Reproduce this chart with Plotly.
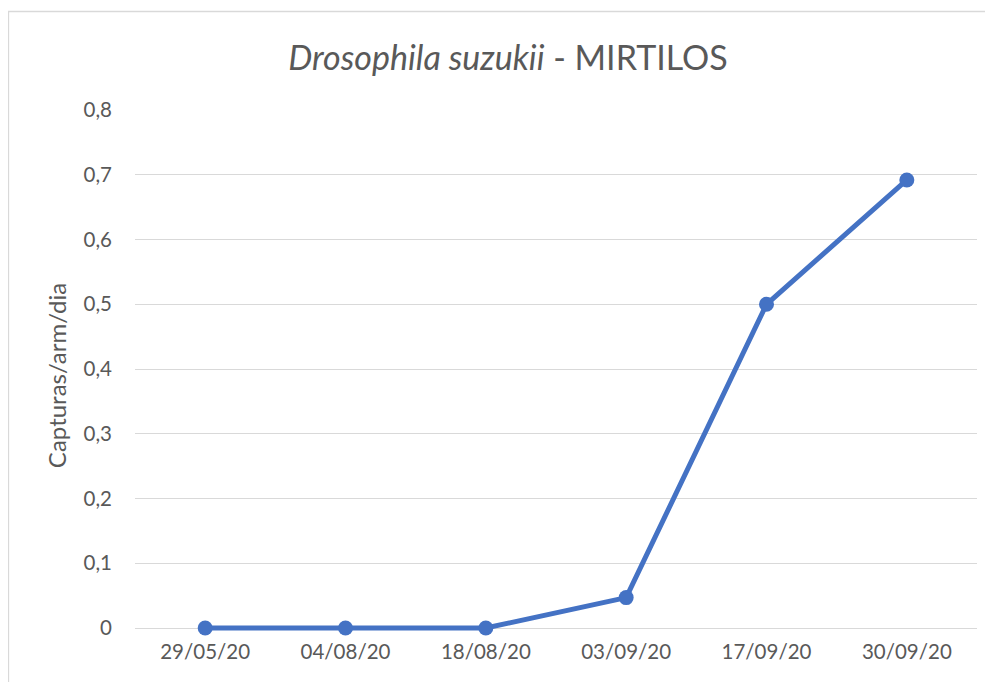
import plotly.graph_objects as go

dates = ["29/05/20", "04/08/20", "18/08/20", "03/09/20", "17/09/20", "30/09/20"]
captures = [0, 0, 0, 0.047, 0.5, 0.692]
y_ticks = [0, 0.1, 0.2, 0.3, 0.4, 0.5, 0.6, 0.7, 0.8]
y_ticktext = ["0", "0,1", "0,2", "0,3", "0,4", "0,5", "0,6", "0,7", "0,8"]

# page body has an 8px margin, so the figure is sized to the remaining window
W, H = 985, 674
Y_LO, Y_HI = -0.02, 0.8
L, R, T = 127, 16, 102
zero_px = 620
px_per_unit = (zero_px - T) / Y_HI
B = H - (zero_px + (0 - Y_LO) * px_per_unit)
pw, ph = W - L - R, H - T - B

FONT = "Lato"
GREY = "#595959"

fig = go.Figure(go.Scatter(
    x=dates, y=captures, mode="lines+markers",
    line=dict(color="#4472C4", width=5),
    marker=dict(color="#4472C4", size=15),
    cliponaxis=False,
))

fig.update_layout(
    width=W, height=H,
    margin=dict(l=L, r=R, t=T, b=B),
    paper_bgcolor="white", plot_bgcolor="white",
    showlegend=False,
    font=dict(family=FONT, color=GREY),
    title=dict(
        text="<i>Drosophila suzukii</i> - MIRTILOS",
        x=500 / W, xanchor="center", y=1 - 50 / H, yanchor="middle",
        font=dict(size=34, color=GREY, family=FONT),
    ),
    xaxis=dict(
        type="category", range=[-0.5, 5.5],
        anchor="free", position=(0 - Y_LO) / (Y_HI - Y_LO),
        showgrid=False, zeroline=False, showline=False,
        ticks="", tickfont=dict(size=20.5, color=GREY),
        ticklabelstandoff=9,
    ),
    yaxis=dict(
        range=[Y_LO, Y_HI], tickmode="array",
        tickvals=y_ticks, ticktext=y_ticktext,
        showgrid=True, gridcolor="#d9d9d9", gridwidth=1.3,
        zeroline=False, showline=False, ticks="",
        tickfont=dict(size=20.5, color=GREY),
        ticklabelstandoff=22,
        title=dict(text="Capturas/arm/dia", font=dict(size=24, color=GREY), standoff=10),
    ),
    shapes=[dict(
        type="rect", xref="paper", yref="paper",
        x0=(0.5 - L) / pw, x1=(W + 20 - L) / pw,
        y0=-(B + 20) / ph, y1=1 + (T - 3.5) / ph,
        line=dict(color="#d9d9d9", width=1.3), fillcolor="rgba(0,0,0,0)",
        layer="below",
    )],
)

fig.write_html("out.html")
